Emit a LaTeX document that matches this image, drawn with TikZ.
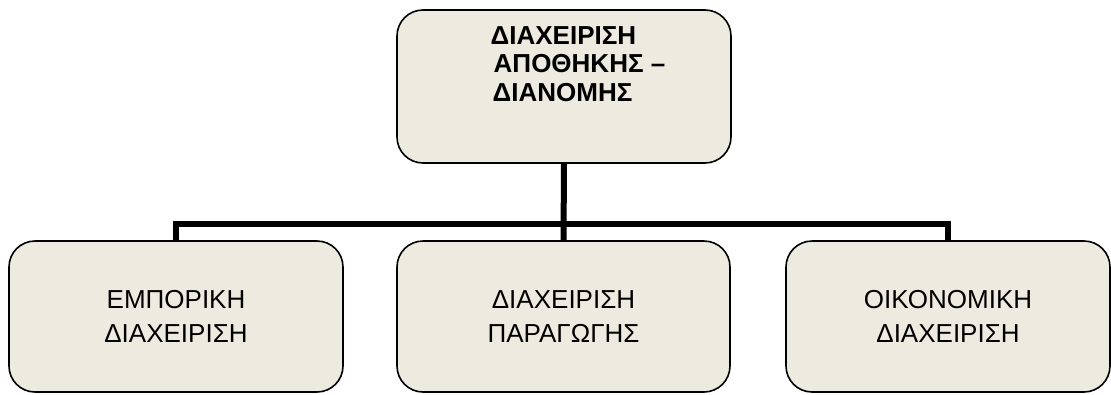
\documentclass[tikz,border=0pt]{standalone}
\usepackage{fontspec}
\setmainfont{Liberation Sans}
\definecolor{boxfill}{RGB}{237,235,224}
\begin{document}
\begin{tikzpicture}[x=1pt,y=-1pt,
  unitbox/.style={draw=black, line width=1.6pt, fill=boxfill, rounded corners=26pt,
    inner sep=0pt, minimum height=151pt, align=center,
    font=\fontsize{26}{34}\selectfont},
  bus/.style={line width=6pt, draw=black, line join=miter}]
\useasboundingbox (0,0) rectangle (1111,394);
\node[unitbox, minimum width=334pt, minimum height=153pt] (top) at (564,86.5) {};
\node[anchor=north west, inner sep=0pt, align=left,
      font=\fontsize{26}{28.3}\selectfont\bfseries] (toptext) at (490.5,26.5)
  {ΔΙΑΧΕΙΡΙΣΗ\\\hspace*{3pt}ΑΠΟΘΗΚΗΣ –\\\hspace*{2pt}ΔΙΑΝΟΜΗΣ};
\node[unitbox, minimum width=334pt] (left) at (176,316.5) {ΕΜΠΟΡΙΚΗ\\ΔΙΑΧΕΙΡΙΣΗ};
\node[unitbox, minimum width=333pt] (mid) at (563.5,316.5) {ΔΙΑΧΕΙΡΙΣΗ\\ΠΑΡΑΓΩΓΗΣ};
\node[unitbox, minimum width=324pt] (right) at (948,316.5) {ΟΙΚΟΝΟΜΙΚΗ\\ΔΙΑΧΕΙΡΙΣΗ};
\coordinate (busmid) at (564,224);
\draw[bus] (top.south) -- (mid.north);
\draw[bus] (left.north) |- (busmid) -| (right.north);
\end{tikzpicture}
\end{document}
